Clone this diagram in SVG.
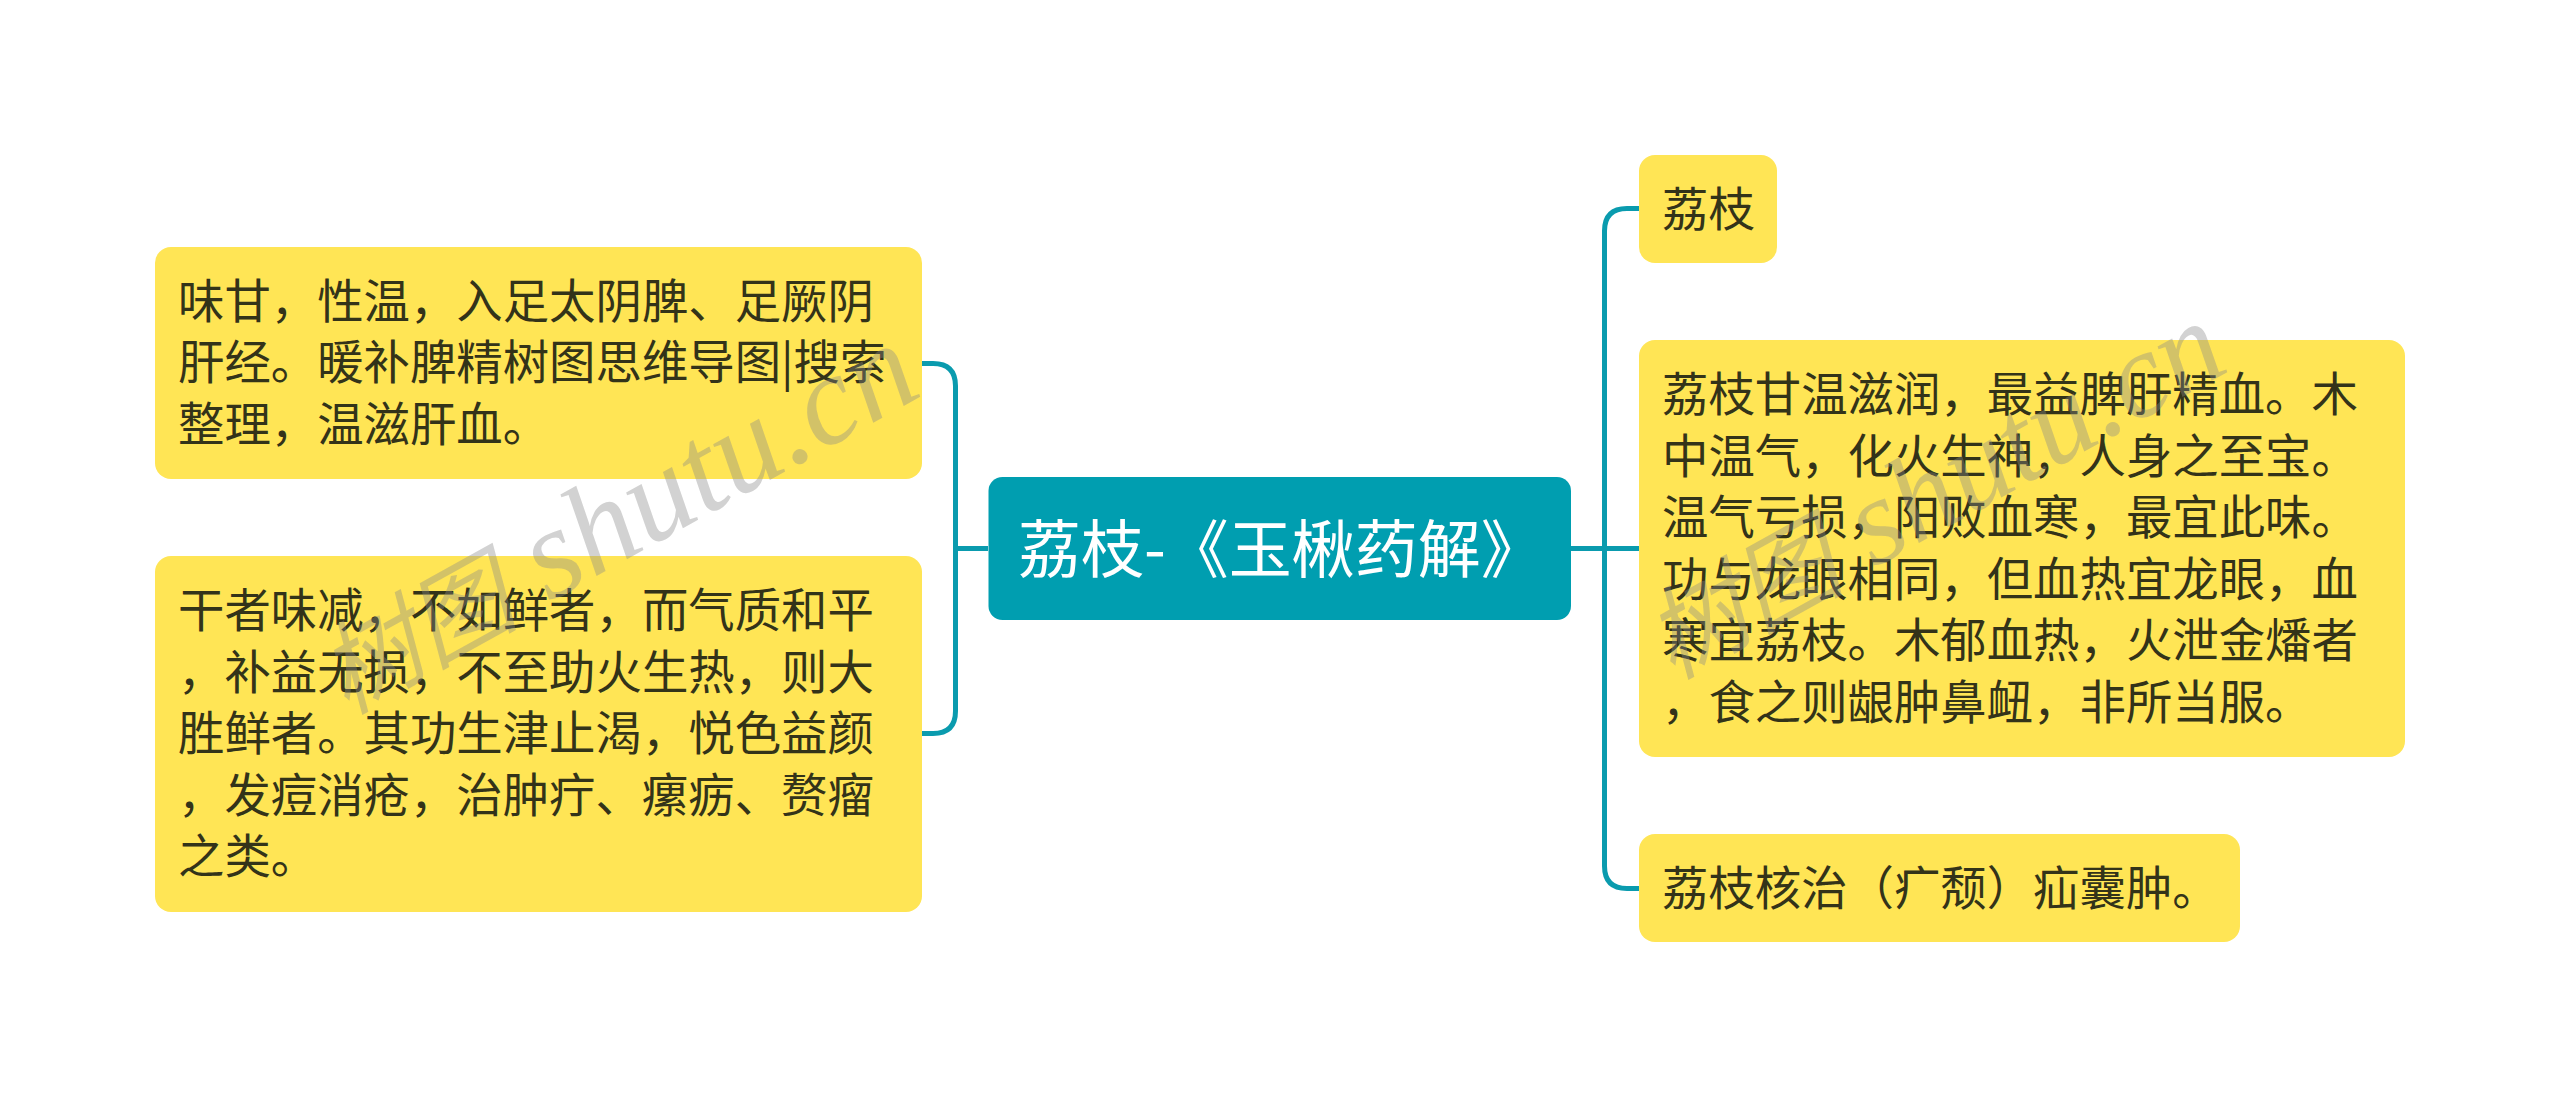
<svg xmlns="http://www.w3.org/2000/svg" width="2560" height="1097" viewBox="0 0 2560 1097">
<style>
text{font-family:"Noto Sans CJK SC","Noto Sans",sans-serif}
.n rect{fill:#ffe555}
.n text{font-size:46.4px;fill:#333319}
.c{fill:none;stroke:#0a9bae;stroke-width:5}
.wm{font-family:"Liberation Serif","Noto Sans CJK SC",serif;font-style:italic;fill:#8a8a8a;fill-opacity:.38}
</style>
<rect width="2560" height="1097" fill="#fff"/>
<g id="connectors">
<path class="c" d="M988 548.500H955.500M921 363.500H933Q955.500 363.500 955.500 386V711Q955.500 733.500 933 733.500H921"/>
<path class="c" d="M1571 548.500H1639M1639 208.500H1627Q1604.500 208.500 1604.500 231V866Q1604.500 888.500 1627 888.500H1639"/>
</g>
<g id="root"><rect x="988.500" y="477" width="582.500" height="143" rx="14" fill="#009eb0"/><text x="1018" y="572" font-size="63" fill="#fff">荔枝-《玉楸药解》</text></g>
<g id="n1" class="n"><rect x="155" y="247" width="767" height="232" rx="16"/>
<text x="178" y="318">味甘，性温，入足太阴脾、足厥阴</text><text x="178" y="379">肝经。暖补脾精树图思维导图|搜索</text><text x="178" y="441">整理，温滋肝血。</text></g>
<g id="n2" class="n"><rect x="155" y="556" width="767" height="356" rx="16"/>
<text x="178" y="627">干者味减，不如鲜者，而气质和平</text><text x="178" y="689">，补益无损，不至助火生热，则大</text><text x="178" y="750">胜鲜者。其功生津止渴，悦色益颜</text><text x="178" y="812">，发痘消疮，治肿疔、瘰疬、赘瘤</text><text x="178" y="873">之类。</text></g>
<g id="n3" class="n"><rect x="1639" y="155" width="138" height="108" rx="16"/><text x="1662" y="226">荔枝</text></g>
<g id="n4" class="n"><rect x="1639" y="340" width="766" height="417" rx="16"/>
<text x="1662" y="411">荔枝甘温滋润，最益脾肝精血。木</text><text x="1662" y="473">中温气，化火生神，人身之至宝。</text><text x="1662" y="534">温气亏损，阳败血寒，最宜此味。</text><text x="1662" y="596">功与龙眼相同，但血热宜龙眼，血</text><text x="1662" y="657">寒宜荔枝。木郁血热，火泄金燔者</text><text x="1662" y="719">，食之则龈肿鼻衄，非所当服。</text></g>
<g id="n5" class="n"><rect x="1639" y="834" width="601" height="108" rx="16"/><text x="1662" y="905">荔枝核治（疒颓）疝囊肿。</text></g>
<g id="watermark">
<text class="wm" font-size="128" transform="translate(346 715) rotate(-29)"><tspan font-size="100">树图</tspan> shutu.cn</text>
<text class="wm" font-size="122" transform="translate(1672 680) rotate(-29)"><tspan font-size="100">树图</tspan> shutu.cn</text>
</g>
</svg>
